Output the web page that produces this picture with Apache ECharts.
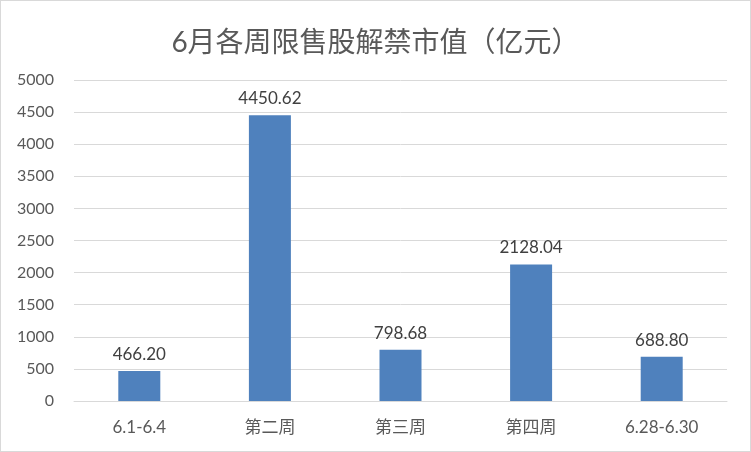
<!DOCTYPE html>
<html>
<head>
<meta charset="utf-8">
<script src="https://cdn.jsdelivr.net/npm/echarts@6/dist/echarts.min.js"></script>
<style>
html,body{margin:0;padding:0;background:#fff;}
#c{width:749px;height:450px;border:1px solid #d9d9d9;}
</style>
</head>
<body>
<div id="c"></div>
<script>
var titleText = '6月各周限售股解禁市值（亿元）';
var categories = ['6.1-6.4', '第二周', '第三周', '第四周', '6.28-6.30'];
var values = [466.20, 4450.62, 798.68, 2128.04, 688.80];

var chart = echarts.init(document.getElementById('c'));
chart.setOption({
  animation: false,
  title: {
    text: titleText,
    left: 'center',
    top: 23,
    textStyle: {fontFamily: 'Lato, "Noto Sans CJK SC", sans-serif', fontSize: 28, fontWeight: 'normal', color: '#595959'}
  },
  grid: {left: 73, right: 23, top: 79, bottom: 50},
  xAxis: {
    type: 'category',
    data: categories,
    axisTick: {show: false},
    axisLine: {lineStyle: {color: '#d9d9d9'}},
    axisLabel: {margin: 18, fontSize: 17, color: '#595959', fontFamily: 'Lato, "Noto Sans CJK SC", sans-serif'}
  },
  yAxis: {
    type: 'value',
    min: 0, max: 5000, interval: 500,
    axisLine: {show: false},
    axisTick: {show: false},
    splitLine: {lineStyle: {color: '#d9d9d9'}},
    axisLabel: {margin: 20, fontSize: 16, color: '#595959', fontFamily: 'Lato, sans-serif',
      formatter: function (v) { return String(v); }}
  },
  series: [{
    type: 'bar',
    data: values,
    barWidth: 42,
    itemStyle: {color: '#4f81bd'},
    label: {
      show: true, position: 'top', distance: 8,
      fontSize: 17, color: '#404040', fontFamily: 'Lato, sans-serif',
      formatter: function (p) { return p.value.toFixed(2); }
    }
  }]
});
</script>
</body>
</html>
